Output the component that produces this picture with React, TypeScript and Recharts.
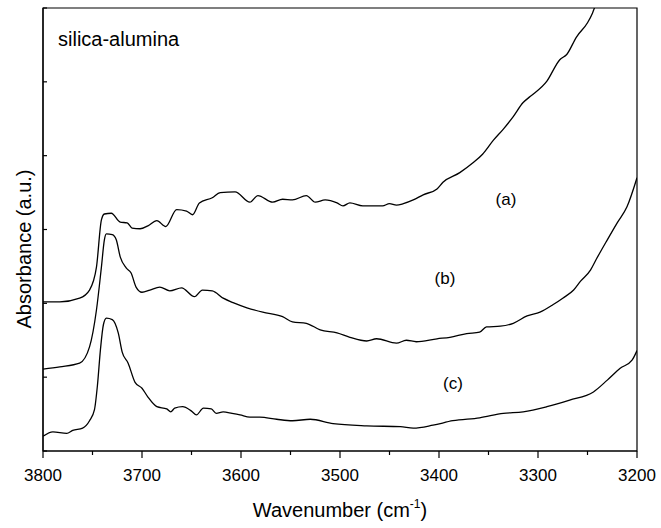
import React from "react";
import { LineChart, Line, XAxis, YAxis, ReferenceArea } from "recharts";

const FONT = "'Liberation Sans', Arial, Helvetica, sans-serif";

// wavenumber ticks (cm-1), labels only on the hundreds
const xTicks = [3800, 3750, 3700, 3650, 3600, 3550, 3500, 3450, 3400, 3350, 3300, 3250, 3200];
const yTicks = [0, 1, 2, 3, 4, 5, 6];

// [wavenumber, absorbance a.u.]
const curveA: [number, number][] = [
  [3800, 2.02], [3783, 2.02], [3763, 2.07], [3753, 2.18], [3746, 2.49], [3741, 3.13],
  [3738, 3.21], [3731, 3.22], [3722, 3.1], [3715, 3.09], [3710, 3.02], [3702, 3.01],
  [3694, 3.05], [3685, 3.12], [3676, 3.04], [3665, 3.27], [3655, 3.25], [3649, 3.2],
  [3642, 3.36], [3629, 3.43], [3621, 3.5], [3606, 3.51], [3591, 3.37], [3583, 3.46],
  [3568, 3.37], [3558, 3.41], [3548, 3.4], [3534, 3.46], [3525, 3.37], [3515, 3.4],
  [3503, 3.36], [3497, 3.32], [3490, 3.36], [3477, 3.32], [3457, 3.32], [3450, 3.35],
  [3443, 3.33], [3436, 3.35], [3426, 3.4], [3416, 3.47], [3402, 3.55], [3396, 3.64],
  [3379, 3.77], [3366, 3.9], [3356, 4.02], [3345, 4.21], [3335, 4.36], [3325, 4.53],
  [3315, 4.72], [3308, 4.8], [3291, 5.01], [3278, 5.3], [3271, 5.37], [3261, 5.61],
  [3250, 5.8], [3245, 5.93], [3243, 6.0], [3237, 6.18],
];

const curveB: [number, number][] = [
  [3800, 1.11], [3783, 1.14], [3763, 1.19], [3753, 1.41], [3746, 1.91], [3741, 2.49],
  [3738, 2.86], [3736, 2.94], [3730, 2.93], [3726, 2.86], [3722, 2.63], [3716, 2.48],
  [3711, 2.41], [3706, 2.22], [3700, 2.15], [3692, 2.18], [3682, 2.22], [3672, 2.17],
  [3660, 2.21], [3647, 2.09], [3639, 2.18], [3629, 2.17], [3618, 2.07], [3608, 2.01],
  [3594, 1.94], [3578, 1.88], [3558, 1.82], [3548, 1.75], [3534, 1.73], [3520, 1.64],
  [3503, 1.6], [3490, 1.54], [3473, 1.49], [3463, 1.52], [3443, 1.46], [3433, 1.5],
  [3423, 1.48], [3402, 1.52], [3389, 1.54], [3372, 1.59], [3359, 1.61], [3352, 1.68],
  [3338, 1.69], [3325, 1.73], [3311, 1.83], [3298, 1.88], [3285, 1.98], [3275, 2.07],
  [3264, 2.18], [3257, 2.3], [3247, 2.45], [3241, 2.6], [3230, 2.86], [3220, 3.09],
  [3210, 3.31], [3200, 3.7],
];

const curveC: [number, number][] = [
  [3800, 0.2], [3790, 0.26], [3776, 0.24], [3770, 0.28], [3760, 0.31], [3753, 0.41],
  [3748, 0.56], [3745, 0.89], [3742, 1.37], [3739, 1.71], [3736, 1.8], [3730, 1.78],
  [3724, 1.6], [3720, 1.34], [3714, 1.19], [3707, 0.93], [3700, 0.85], [3694, 0.73],
  [3685, 0.6], [3675, 0.57], [3671, 0.53], [3667, 0.58], [3659, 0.6], [3650, 0.54],
  [3645, 0.49], [3638, 0.58], [3630, 0.57], [3625, 0.51], [3618, 0.53], [3609, 0.51],
  [3601, 0.49], [3591, 0.46], [3581, 0.46], [3564, 0.43], [3548, 0.41], [3530, 0.43],
  [3507, 0.37], [3473, 0.34], [3439, 0.33], [3426, 0.31], [3406, 0.35], [3386, 0.41],
  [3359, 0.45], [3335, 0.51], [3315, 0.53], [3291, 0.6], [3268, 0.69], [3244, 0.8],
  [3230, 0.96], [3217, 1.12], [3205, 1.23], [3200, 1.36],
];

const toRows = (pts: [number, number][]) => pts.map(([w, v]) => ({ w, v }));
const rowsA = toRows(curveA);
const rowsB = toRows(curveB);
const rowsC = toRows(curveC);

const XTick = (props: any) => {
  const { x, y, payload } = props;
  const major = payload.value % 100 === 0;
  return (
    <g>
      <line x1={x} x2={x} y1={y} y2={y + (major ? 7 : 4)} stroke="#000" strokeWidth={1.2} />
      {major && (
        <text x={x} y={y + 30} textAnchor="middle" fontSize={17} fontFamily={FONT} fill="#000">
          {payload.value}
        </text>
      )}
    </g>
  );
};

const YTick = (props: any) => {
  const { x, y } = props;
  return <line x1={x} x2={x + 4} y1={y} y2={y} stroke="#000" strokeWidth={1.2} />;
};

export default function App() {
  return (
    <div style={{ position: "absolute", left: 0, top: 0, width: 661, height: 528, background: "#fff" }}>
      <LineChart width={661} height={528} margin={{ top: 8, right: 24, bottom: 0, left: 0 }}>
        <XAxis
          dataKey="w"
          type="number"
          domain={[3200, 3800]}
          reversed
          allowDataOverflow
          ticks={xTicks}
          interval={0}
          height={77}
          tickSize={0}
          tickMargin={0}
          tickLine={false}
          tick={<XTick />}
          axisLine={{ stroke: "#000", strokeWidth: 1.2 }}
        />
        <YAxis
          type="number"
          domain={[0, 6]}
          allowDataOverflow
          ticks={yTicks}
          interval={0}
          width={43}
          tickSize={0}
          tickMargin={0}
          tickLine={false}
          tick={<YTick />}
          axisLine={{ stroke: "#000", strokeWidth: 1.2 }}
        />
        <ReferenceArea x1={3800} x2={3200} y1={0} y2={6} fill="none" stroke="#000" strokeWidth={1.2} />
        <Line data={rowsA} dataKey="v" type="monotone" stroke="#000" strokeWidth={1.3} dot={false} isAnimationActive={false} />
        <Line data={rowsB} dataKey="v" type="monotone" stroke="#000" strokeWidth={1.3} dot={false} isAnimationActive={false} />
        <Line data={rowsC} dataKey="v" type="monotone" stroke="#000" strokeWidth={1.3} dot={false} isAnimationActive={false} />
      </LineChart>
      <svg width={661} height={528} style={{ position: "absolute", left: 0, top: 0, pointerEvents: "none" }}>
        <g fontFamily={FONT} fill="#000">
          <text x={58} y={46} fontSize={20}>silica-alumina</text>
          <text x={506} y={205} fontSize={17} textAnchor="middle">(a)</text>
          <text x={445} y={284} fontSize={17} textAnchor="middle">(b)</text>
          <text x={453} y={389} fontSize={17} textAnchor="middle">(c)</text>
          <text x={340} y={517} fontSize={20} textAnchor="middle">
            Wavenumber (cm<tspan fontSize={12} dy={-9}>-1</tspan><tspan dy={9}>)</tspan>
          </text>
          <text x={31} y={249} fontSize={20} textAnchor="middle" transform="rotate(-90 31 249)">
            Absorbance (a.u.)
          </text>
        </g>
      </svg>
    </div>
  );
}
